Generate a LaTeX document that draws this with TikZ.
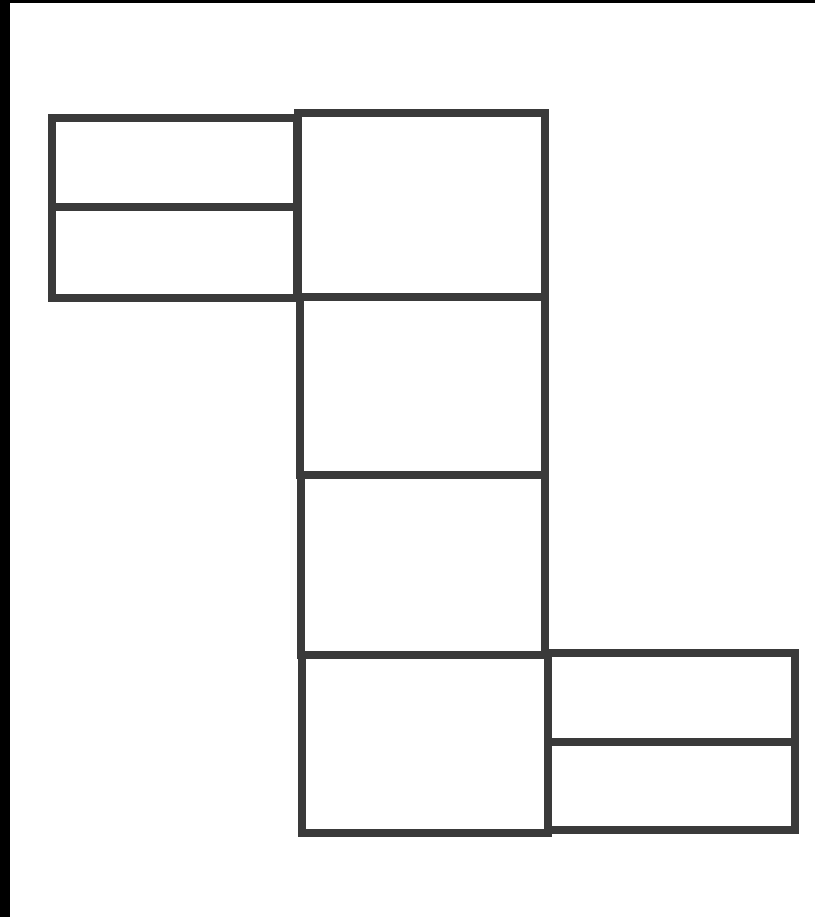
\documentclass[tikz,border=0pt]{standalone}
\definecolor{ink}{HTML}{3A3A3A}
\tikzset{
  cell/.style={draw=ink, line width=8pt, rectangle, inner sep=0pt, outer sep=0pt, anchor=north west},
}
\newcommand{\cellbox}[5]{% name, x1, y1, x2, y2
  \node[cell, minimum width={#4pt-#2pt}, minimum height={#5pt-#3pt}] (#1) at (#2,#3) {};}
\begin{document}
\begin{tikzpicture}[x=1pt,y=-1pt]
\useasboundingbox (0,0) rectangle (815,917);
\fill[white] (0,0) rectangle (815,917);
\fill[black] (0,0) rectangle (10,917);
\fill[black] (0,0) rectangle (815,3);
% left box
\cellbox{a1}{52}{118}{297}{207}
\cellbox{a2}{52}{207}{297}{298}
% middle column
\cellbox{m1}{298}{113}{545}{297}
\cellbox{m2}{300}{297}{545}{475}
\cellbox{m3}{301}{475}{545}{655}
\cellbox{m4}{302}{655}{548}{833}
% right box
\cellbox{r1}{548}{653}{795}{742}
\cellbox{r2}{548}{742}{795}{830}
\end{tikzpicture}
\end{document}
